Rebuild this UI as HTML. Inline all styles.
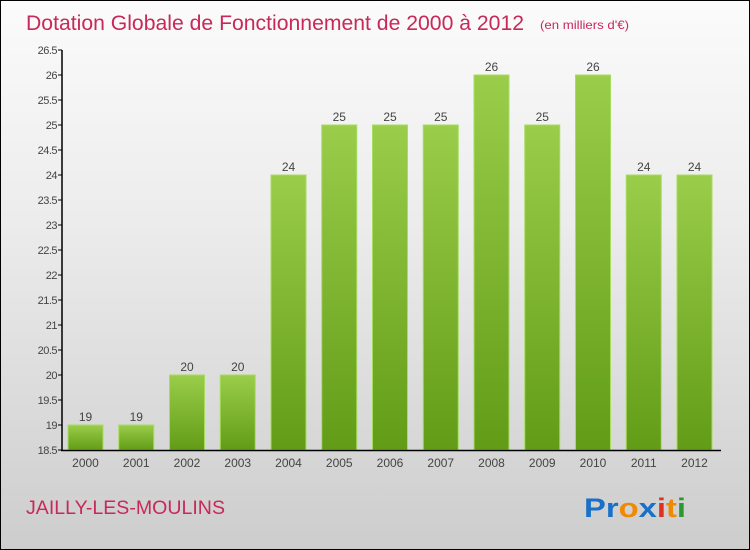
<!DOCTYPE html>
<html><head><meta charset="utf-8"><style>
body{margin:0}
#c{position:relative;width:748px;height:548px;border:1px solid #000;background:linear-gradient(#fbfbfb,#ececec 40%,#cdcdcd);font-family:"Liberation Sans",sans-serif;overflow:hidden}
</style></head><body>
<div id="c">
<svg id="s" width="748" height="548">
<defs><linearGradient id="g" x1="0" y1="0" x2="0" y2="1"><stop offset="0" stop-color="#9acd4a"/><stop offset="1" stop-color="#629c17"/></linearGradient></defs>
<text x="25" y="29" font-size="21" fill="#c8285a" textLength="498" lengthAdjust="spacingAndGlyphs">Dotation Globale de Fonctionnement de 2000 à 2012</text>
<text x="539" y="28" font-size="12" fill="#c8285a" textLength="89" lengthAdjust="spacingAndGlyphs">(en milliers d'€)</text>
<text x="25" y="513" font-size="19" fill="#c8285a" textLength="199" lengthAdjust="spacingAndGlyphs">JAILLY-LES-MOULINS</text>
<text x="583" y="516" font-size="27" font-weight="bold" textLength="102" lengthAdjust="spacingAndGlyphs"><tspan fill="#1a6fc8">Pr</tspan><tspan fill="#f08a00">o</tspan><tspan fill="#1a6fc8">x</tspan><tspan fill="#e03020">i</tspan><tspan fill="#f08a00">t</tspan><tspan fill="#2a9a30">i</tspan></text>
</svg>
</div>
<script>
const years=["2000","2001","2002","2003","2004","2005","2006","2007","2008","2009","2010","2011","2012"];
const values=[19,19,20,20,24,25,25,25,26,25,26,24,24];
const yTicks=[18.5,19,19.5,20,20.5,21,21.5,22,22.5,23,23.5,24,24.5,25,25.5,26,26.5];
const s=document.getElementById('s');const NS='http://www.w3.org/2000/svg';
const y=v=>449-(v-18.5)*50; const x=i=>84.5+i*50.75;
function mk(t,a){const e=document.createElementNS(NS,t);for(const k in a)e.setAttribute(k,a[k]);s.appendChild(e);return e;}
yTicks.forEach(t=>{
 const l=mk('line',{x1:57,x2:61,y1:y(t),y2:y(t),stroke:'#000'});
 
 
 const tx=mk('text',{x:56,y:y(t)+4,'font-size':11,'text-anchor':'end',fill:'#444','letter-spacing':'-0.5'});
 tx.textContent=String(t);
 
 
});
values.forEach((v,i)=>{
 const b=mk('rect',{x:x(i)-17.5,y:y(v),width:35,height:449-y(v),fill:'url(#g)',stroke:'#a8dc60','stroke-width':1});
 
 
 const t=mk('text',{x:x(i),y:y(v)-4,'font-size':12,'text-anchor':'middle',fill:'#444'});
 t.textContent=String(v);
 
 
 const xl=mk('text',{x:x(i),y:466,'font-size':12,'text-anchor':'middle',fill:'#444'});
 xl.textContent=years[i];
 
 
});
const ya=mk('line',{x1:61,x2:61,y1:y(26.5),y2:450,stroke:'#000','stroke-width':1.5});


const xa=mk('line',{x1:60,x2:720,y1:449.5,y2:449.5,stroke:'#000','stroke-width':1.5});


</script>
</body></html>
